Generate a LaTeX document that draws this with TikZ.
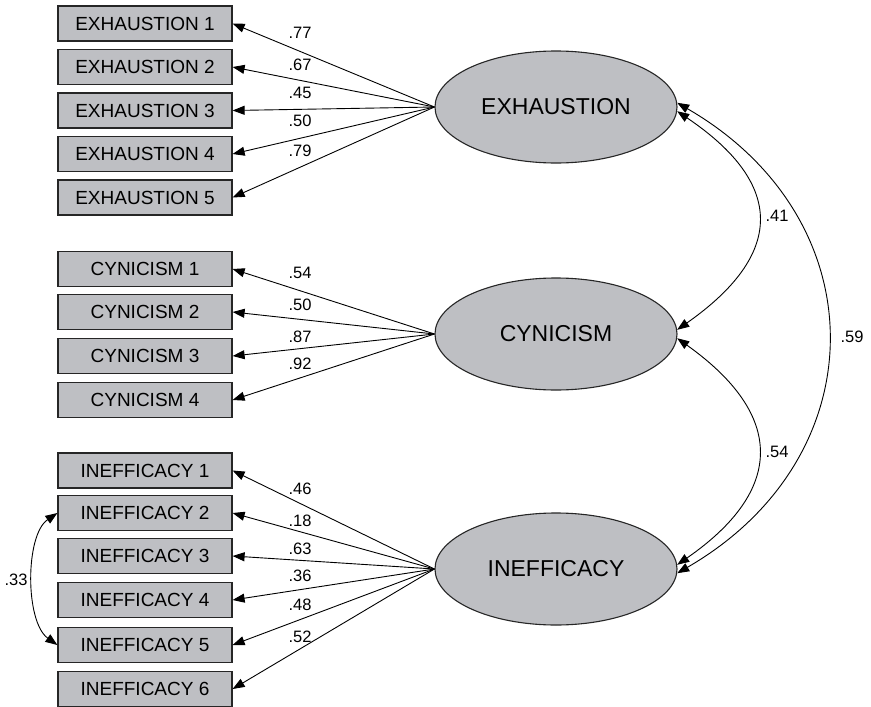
\documentclass[tikz,border=0pt]{standalone}
\usepackage{fontspec}
\setmainfont{Liberation Sans}
\usetikzlibrary{arrows.meta,shapes.geometric,calc}
\definecolor{boxgray}{RGB}{190,191,195}
\begin{document}
\begin{tikzpicture}[x=1pt,y=-1pt,
  obs/.style={draw=black!85, line width=1.2pt, fill=boxgray, minimum width=174pt, minimum height=35pt, inner sep=0pt, font=\fontsize{19}{19}\selectfont},
  lat/.style={ellipse, draw=black!85, line width=1.1pt, fill=boxgray, minimum width=242pt, minimum height=112pt, inner sep=0pt, font=\fontsize{23}{23}\selectfont},
  lbl/.style={font=\fontsize{16.5}{16.5}\selectfont, inner sep=0pt},
  load/.style={line width=0.9pt, -{Triangle[length=12pt,width=9pt]}},
  cov/.style={line width=0.9pt, {Triangle[length=12pt,width=9pt]}-{Triangle[length=12pt,width=9pt]}}]
\path[use as bounding box, fill=white] (0,0) rectangle (871,707);

% observed indicators
\node[obs] (e1) at (145,23.5) {EXHAUSTION 1};
\node[obs] (e2) at (145,67) {EXHAUSTION 2};
\node[obs] (e3) at (145,110.5) {EXHAUSTION 3};
\node[obs] (e4) at (145,154) {EXHAUSTION 4};
\node[obs] (e5) at (145,197.5) {EXHAUSTION 5};

\node[obs] (c1) at (145,269) {CYNICISM 1};
\node[obs] (c2) at (145,312) {CYNICISM 2};
\node[obs] (c3) at (145,356) {CYNICISM 3};
\node[obs] (c4) at (145,400) {CYNICISM 4};

\node[obs] (i1) at (145,470.5) {INEFFICACY 1};
\node[obs] (i2) at (145,513) {INEFFICACY 2};
\node[obs] (i3) at (145,556) {INEFFICACY 3};
\node[obs] (i4) at (145,600) {INEFFICACY 4};
\node[obs] (i5) at (145,645) {INEFFICACY 5};
\node[obs] (i6) at (145,689) {INEFFICACY 6};

% latent factors
\node[lat] (EX) at (556,107) {EXHAUSTION};
\node[lat] (CY) at (556,334) {CYNICISM};
\node[lat] (IN) at (556,569) {INEFFICACY};

% loadings
\foreach \t in {e1,e2,e3,e4,e5} \draw[load] (EX.west) -- (\t.east);
\foreach \t in {c1,c2,c3,c4} \draw[load] (CY.west) -- (\t.east);
\foreach \t in {i1,i2,i3,i4,i5,i6} \draw[load] (IN.west) -- (\t.east);

\node[lbl] (le1) at (300,33) {.77};
\node[lbl] (le2) at (300,65) {.67};
\node[lbl] (le3) at (300,93) {.45};
\node[lbl] (le4) at (300,121) {.50};
\node[lbl] (le5) at (300,151) {.79};

\node[lbl] (lc1) at (300,273) {.54};
\node[lbl] (lc2) at (300,305) {.50};
\node[lbl] (lc3) at (300,337) {.87};
\node[lbl] (lc4) at (300,364) {.92};

\node[lbl] (li1) at (300,489) {.46};
\node[lbl] (li2) at (300,521) {.18};
\node[lbl] (li3) at (300,549) {.63};
\node[lbl] (li4) at (300,576) {.36};
\node[lbl] (li5) at (300,605) {.48};
\node[lbl] (li6) at (300,637) {.52};

% covariances
\draw[cov] (EX.2) .. controls (878,219) and (878,457) .. (IN.-2);
\draw[cov] (EX.-2) .. controls (785,184) and (785,254) .. (CY.2);
\draw[cov] (CY.-2) .. controls (785,415) and (785,490) .. (IN.2);
\draw[cov] (i2.west) .. controls (25,535) and (25,622) .. (i5.west);

\node[lbl] (l41) at (777,216) {.41};
\node[lbl] (l54) at (777,452) {.54};
\node[lbl] (l59) at (852,337) {.59};
\node[lbl] (l33) at (16,580) {.33};
\end{tikzpicture}
\end{document}
